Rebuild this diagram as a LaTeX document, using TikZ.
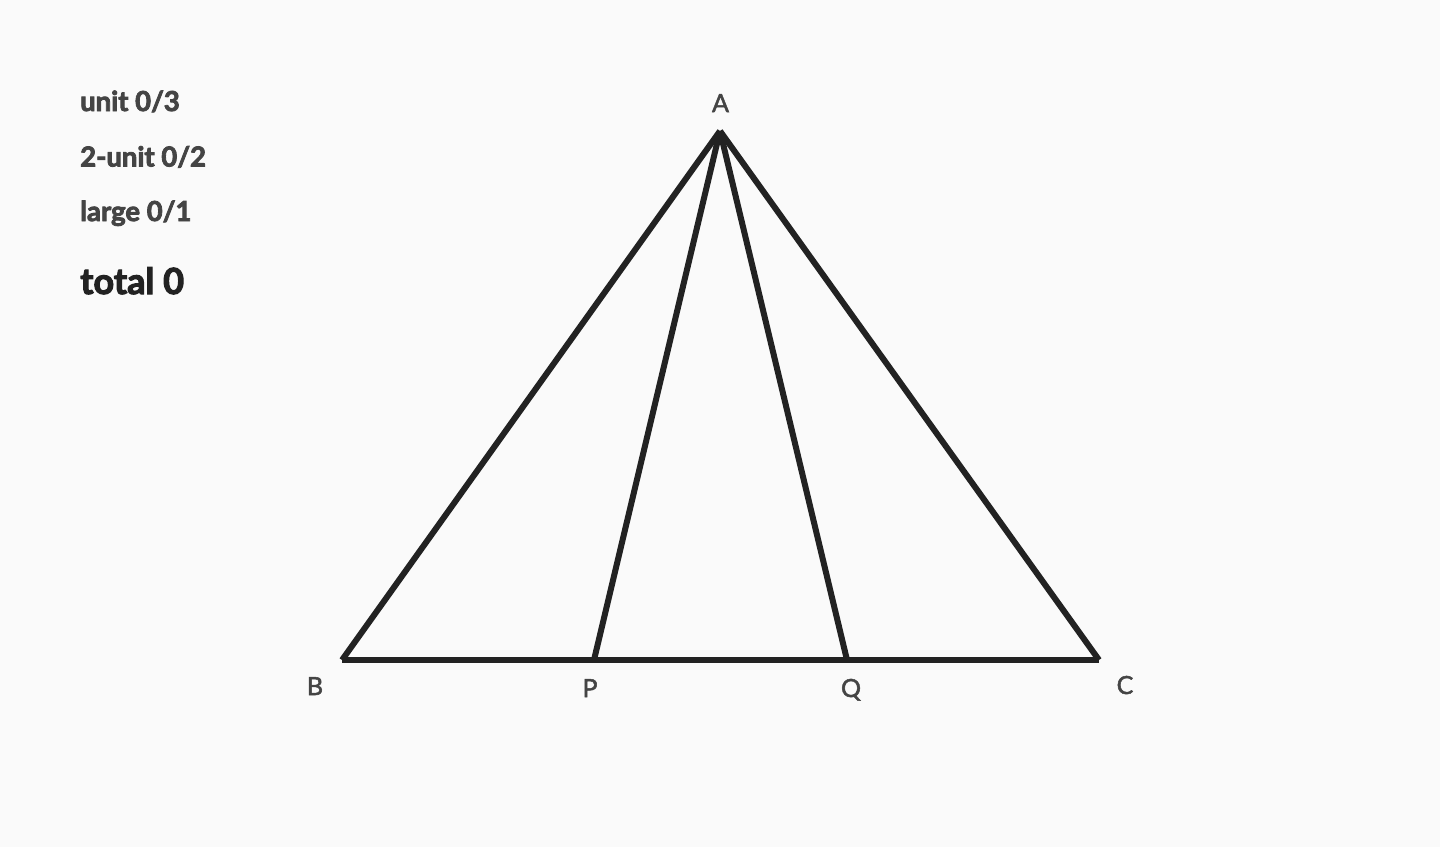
\documentclass[tikz,border=0pt]{standalone}
\usepackage{fontspec}
\setmainfont{Lato}
\newfontfamily\heavyfont[FakeBold=3]{Lato Bold}
\newfontfamily\semifont[FakeBold=2]{Lato}
\definecolor{bg}{HTML}{FAFAFA}
\definecolor{ink}{HTML}{222222}
\definecolor{txt}{HTML}{444444}
\begin{document}
\begin{tikzpicture}[x=1pt,y=-1pt,
  seg/.style={draw=ink,line width=6pt,line cap=butt,line join=miter},
  score/.style={anchor=base west,text=txt,font=\heavyfont\fontsize{27.5}{32}\selectfont,inner sep=0pt},
  totaltxt/.style={anchor=base west,text=ink,font=\heavyfont\fontsize{36}{40}\selectfont,inner sep=0pt},
  vlabel/.style={anchor=base,text=txt,font=\semifont\fontsize{25}{30}\selectfont,inner sep=0pt}]
\fill[bg] (0,0) rectangle (1440,847);
\useasboundingbox (0,0) rectangle (1440,847);
\coordinate (A) at (720,131);
\coordinate (B) at (342,660);
\coordinate (C) at (1099,660);
\coordinate (P) at (594,660);
\coordinate (Q) at (847,660);
\draw[seg] (B) -- (C);
\draw[seg] (A) -- (B);
\draw[seg] (A) -- (C);
\draw[seg] (A) -- (P);
\draw[seg] (A) -- (Q);
\node[vlabel] (lA) at (720.5,112) {A};
\node[vlabel] (lB) at (315,695) {B};
\node[vlabel] (lP) at (590,697) {P};
\node[vlabel] (lQ) at (851,697) {Q};
\node[vlabel] (lC) at (1125,694) {C};
\node[score] (s1) at (80,111) {unit 0/3};
\node[score] (s2) at (80,166.5) {2-unit 0/2};
\node[score] (s3) at (80,221) {large 0/1};
\node[totaltxt] (tot) at (80,294) {total 0};
\end{tikzpicture}
\end{document}
